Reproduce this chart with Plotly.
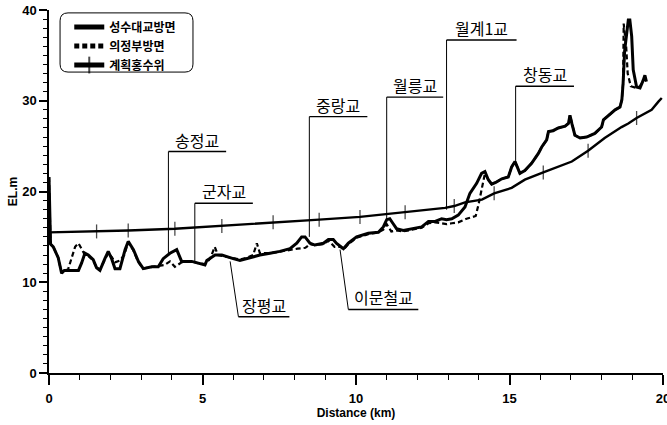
import plotly.graph_objects as go

# ---------------- data ----------------
# 성수대교방면 (solid)  : distance km, elevation m
seongsu_km = [0, 0.05, 0.14, 0.30, 0.41, 0.50, 0.74, 0.96, 1.06, 1.17, 1.28, 1.44, 1.55, 1.66, 1.82,
              1.93, 2.04, 2.15, 2.31, 2.48, 2.58, 2.75, 2.91, 3.07, 3.35, 3.56, 3.72, 3.94, 4.16, 4.27,
              4.32, 4.65, 4.86, 5.08, 5.14, 5.41, 5.63, 5.79, 6.00, 6.22, 6.44, 6.71, 6.87, 7.20, 7.52,
              7.85, 8.07, 8.23, 8.34, 8.50, 8.66, 8.94, 9.10, 9.26, 9.36, 9.59, 9.75, 10.02, 10.40, 10.73,
              10.89, 11.00, 11.10, 11.20, 11.32, 11.54, 11.81, 12.14, 12.36, 12.58, 12.79, 12.95, 13.12, 13.33, 13.55,
              13.71, 13.93, 14.09, 14.20, 14.31, 14.42, 14.55, 14.75, 14.96, 15.07, 15.18, 15.34, 15.50, 15.72, 15.94,
              16.05, 16.21, 16.27, 16.42, 16.59, 16.81, 16.92, 16.97, 17.03, 17.13, 17.30, 17.51, 17.78, 18.00, 18.06,
              18.22, 18.44, 18.60, 18.66, 18.70, 18.75, 18.87, 18.92, 18.98, 19.03, 19.14, 19.25, 19.36, 19.41, 19.46]
seongsu_el = [21.6, 14.2, 13.9, 12.7, 11.0, 11.3, 11.3, 11.3, 12.1, 13.2, 13.0, 12.5, 11.6, 11.3, 12.6,
              13.4, 12.6, 11.5, 11.5, 13.6, 14.5, 13.6, 12.3, 11.5, 11.7, 11.7, 12.6, 13.2, 13.6, 12.8,
              12.3, 12.3, 12.1, 11.9, 12.4, 13.0, 13.0, 12.8, 12.6, 12.4, 12.6, 12.8, 13.0, 13.2, 13.4,
              13.7, 14.3, 15.0, 15.0, 14.3, 14.1, 14.3, 14.7, 14.7, 14.3, 13.7, 14.3, 15.0, 15.4, 15.5,
              16.1, 16.9, 17.0, 16.5, 15.9, 15.7, 15.9, 16.1, 16.7, 16.7, 17.0, 16.9, 17.0, 17.4, 18.3,
              19.8, 20.9, 22.0, 22.2, 21.3, 20.8, 21.0, 21.4, 21.6, 22.7, 23.3, 22.0, 22.3, 23.1, 24.2,
              24.9, 25.7, 26.6, 26.7, 27.0, 27.2, 27.5, 28.4, 27.5, 26.2, 25.9, 26.0, 26.4, 27.1, 27.9,
              28.4, 29.0, 29.3, 30.1, 31.9, 35.5, 38.9, 38.9, 37.1, 33.4, 31.5, 31.4, 32.3, 32.8, 32.1]

# 의정부방면 (dashed)
uijeongbu_km = [0, 0.05, 0.14, 0.30, 0.41, 0.50, 0.62, 0.74, 0.85, 0.96, 1.06, 1.17, 1.28, 1.44, 1.55,
                1.66, 1.82, 1.93, 2.04, 2.15, 2.31, 2.45, 2.58, 2.75, 2.91, 3.07, 3.35, 3.56, 3.76, 3.94,
                4.10, 4.32, 4.65, 4.86, 5.08, 5.25, 5.40, 5.50, 5.63, 5.79, 6.00, 6.22, 6.44, 6.65, 6.77,
                6.87, 7.20, 7.52, 7.85, 8.10, 8.35, 8.50, 8.66, 8.94, 9.10, 9.30, 9.50, 9.60, 9.75, 10.02,
                10.40, 10.73, 10.89, 11.00, 11.15, 11.32, 11.54, 11.81, 12.14, 12.36, 12.58, 12.79, 12.95, 13.12, 13.33,
                13.60, 13.90, 14.00, 14.10, 14.20, 14.31, 14.42, 14.55, 14.75, 14.96, 15.07, 15.18, 15.34, 15.50, 15.72,
                15.94, 16.05, 16.21, 16.27, 16.42, 16.59, 16.81, 16.92, 16.97, 17.03, 17.13, 17.30, 17.51, 17.78, 18.00,
                18.06, 18.22, 18.44, 18.60, 18.66, 18.70, 18.72, 18.80, 18.85, 18.95, 19.03, 19.14, 19.25, 19.36, 19.46]
uijeongbu_el = [21.6, 14.2, 13.9, 12.7, 11.0, 11.3, 11.4, 12.6, 13.9, 14.3, 13.6, 13.0, 12.9, 12.4, 11.6,
                11.4, 12.5, 13.2, 12.8, 12.2, 12.4, 13.0, 14.4, 13.5, 12.2, 11.5, 11.7, 11.8, 11.9, 12.3,
                11.7, 12.2, 12.3, 12.1, 12.0, 12.6, 13.9, 13.0, 12.9, 12.8, 12.6, 12.5, 12.7, 13.0, 14.3,
                13.2, 13.2, 13.4, 13.6, 13.7, 13.8, 14.2, 14.1, 14.2, 14.6, 13.9, 13.9, 13.6, 14.2, 14.9,
                15.3, 15.5, 15.8, 16.4, 15.6, 15.7, 15.6, 15.8, 16.0, 16.5, 16.6, 16.5, 16.4, 16.5, 16.6,
                17.0, 17.3, 18.7, 20.5, 22.0, 21.3, 20.8, 21.0, 21.4, 21.6, 22.7, 23.3, 22.0, 22.3, 23.1,
                24.2, 24.9, 25.7, 26.6, 26.7, 27.0, 27.2, 27.5, 28.4, 27.5, 26.2, 25.9, 26.0, 26.4, 27.1,
                27.9, 28.4, 29.0, 29.3, 30.1, 31.9, 38.5, 36.0, 33.0, 31.6, 31.5, 31.4, 31.6, 32.3, 32.5]

# 계획홍수위 (planned flood level) with station ticks
plan_km = [0, 1.55, 2.58, 4.10, 5.63, 7.30, 8.80, 10.13, 11.60, 12.90, 13.20, 13.55, 14.10, 14.50,
           15.07, 15.50, 16.10, 16.48, 17.03, 17.56, 18.10, 18.65, 18.87, 19.14, 19.63, 19.85, 19.96]
plan_el = [15.5, 15.6, 15.7, 15.9, 16.2, 16.6, 16.9, 17.2, 17.7, 18.2, 18.4, 18.8, 19.1, 19.8,
           20.4, 21.3, 22.1, 22.6, 23.3, 24.5, 25.9, 27.1, 27.5, 28.1, 29.0, 29.9, 30.3]
plan_station = [0, 1, 1, 1, 1, 1, 1, 1, 1, 0, 1, 0, 0, 1,
                0, 0, 1, 0, 0, 1, 0, 0, 0, 1, 0, 0, 0]

# bridges
bridge_names = ['송정교', '군자교', '장평교', '중랑교', '이문철교', '월릉교', '월계1교', '창동교']
bridge_km = [3.89, 4.75, 5.90, 8.48, 9.48, 11.00, 12.95, 15.20]
bridge_el = [13.2, 12.3, 12.3, 15.0, 13.6, 16.9, 18.0, 23.1]

# label placement (layout only): underline elevation, underline end km, leader foot km
label_line_y = [24.4, 18.7, 6.2, 28.25, 7.0, 30.4, 36.7, 31.6]
label_line_x1 = [5.77, 6.64, 7.83, 10.37, 12.03, 12.84, 15.23, 17.10]
label_foot_x = [3.89, 4.75, 6.17, 8.48, 9.75, 11.00, 12.95, 15.20]

legend_names = ['성수대교방면', '의정부방면', '계획홍수위']

# ---------------- figure ----------------
fig = go.Figure()

fig.add_trace(go.Scatter(x=plan_km, y=plan_el, mode='lines+markers', name=legend_names[2],
                         line=dict(color='black', width=2.4),
                         marker=dict(symbol='line-ns', size=[10 if s else 0 for s in plan_station],
                                     color='black', line=dict(color='black', width=1.3)),
                         legendrank=3))
fig.add_trace(go.Scatter(x=uijeongbu_km, y=uijeongbu_el, mode='lines', name=legend_names[1],
                         line=dict(color='black', width=2.2, dash='5px,3px'), legendrank=2))
fig.add_trace(go.Scatter(x=seongsu_km, y=seongsu_el, mode='lines', name=legend_names[0],
                         line=dict(color='black', width=3), legendrank=1))

shapes = []
annotations = []
for i, name in enumerate(bridge_names):
    ly = label_line_y[i]
    fx = label_foot_x[i]
    shapes.append(dict(type='line', xref='x', yref='y', x0=bridge_km[i], y0=bridge_el[i],
                       x1=fx, y1=ly, line=dict(color='black', width=1)))
    shapes.append(dict(type='line', xref='x', yref='y', x0=fx, y0=ly, x1=label_line_x1[i], y1=ly,
                       line=dict(color='black', width=1.4)))
    annotations.append(dict(x=(fx + label_line_x1[i]) / 2, y=ly, xref='x', yref='y', text=name,
                            showarrow=False, yanchor='bottom', yshift=-2,
                            font=dict(family='Noto Sans CJK KR', size=16, color='black')))

# rounded legend box
x0, x1, y0, y1 = 0.018, 0.2345, 0.829, 0.992
rx, ry = 0.013, 0.022
path = (f'M {x0+rx},{y1} L {x1-rx},{y1} Q {x1},{y1} {x1},{y1-ry} L {x1},{y0+ry} '
        f'Q {x1},{y0} {x1-rx},{y0} L {x0+rx},{y0} Q {x0},{y0} {x0},{y0+ry} '
        f'L {x0},{y1-ry} Q {x0},{y1} {x0+rx},{y1} Z')
shapes.append(dict(type='path', xref='paper', yref='paper', path=path,
                   line=dict(color='black', width=1)))

tickfont = dict(family='Liberation Sans Narrow, Liberation Sans, Arial', size=13, color='black', weight='bold')

fig.update_layout(
    width=667, height=425,
    margin=dict(l=49, r=4, t=10, b=52, autoexpand=False),
    paper_bgcolor='white', plot_bgcolor='white',
    shapes=shapes, annotations=annotations,
    showlegend=True,
    legend=dict(x=0.033, y=0.993, xanchor='left', yanchor='top', bgcolor='rgba(0,0,0,0)',
                borderwidth=0, itemsizing='constant', tracegroupgap=0,
                font=dict(family='Noto Sans CJK KR', size=12, color='black', weight='bold')),
    xaxis=dict(range=[0, 20], showgrid=False, zeroline=False, showline=True, linecolor='black',
               linewidth=1.5, ticks='outside', ticklen=10, tickwidth=1.5, tickcolor='black',
               dtick=5, tick0=0, tickfont=tickfont, ticklabelstandoff=3, ticklabeloverflow='allow',
               minor=dict(dtick=1, ticks='outside', ticklen=5, tickwidth=1, tickcolor='black'),
               title=dict(text='Distance (km)', standoff=1,
                          font=dict(family='Liberation Sans Narrow, Liberation Sans, Arial', size=12,
                                    color='black', weight='bold'))),
    yaxis=dict(range=[0, 40], showgrid=False, zeroline=False, showline=True, linecolor='black',
               linewidth=1.5, ticks='outside', ticklen=8, tickwidth=1.5, tickcolor='black',
               dtick=10, tick0=0, tickfont=tickfont, ticklabeloverflow='allow',
               minor=dict(dtick=1, ticks='outside', ticklen=4, tickwidth=1, tickcolor='black'),
               title=dict(text='EL.m', standoff=2,
                          font=dict(family='Liberation Sans Narrow, Liberation Sans, Arial', size=12,
                                    color='black', weight='bold'))),
)

# remove the page's default 8px body margin so the figure fills the window like the reference
fig.write_html('out.html', config={'displayModeBar': False},
               post_script="document.body.style.margin='0';")
